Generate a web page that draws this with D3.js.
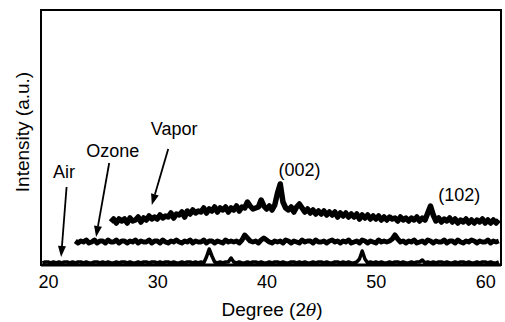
<!DOCTYPE html>
<html>
<head>
<meta charset="utf-8">
<script src="https://cdn.jsdelivr.net/npm/d3@7"></script>
<style>
  html, body { margin: 0; padding: 0; background: #fff; }
  svg { display: block; font-family: "Liberation Sans", Arial, sans-serif; }
</style>
</head>
<body>
<div id="chart"></div>
<script>
// scan grid (degrees 2theta) and intensities (a.u.)
const scanStep = 0.25;
const tickLabels = [20, 30, 40, 50, 60];

const vaporStart = 25.75;
const vaporIntensity = [
  43, 46, 42, 46, 44,
  46, 42, 47, 44,
  45, 48, 43, 47,
  45, 49, 46, 48,
  46, 50, 47, 49,
  48, 52, 47, 51,
  50, 53, 48, 54,
  51, 55, 52, 54,
  53, 57, 52, 56,
  54, 58, 53, 57,
  55, 58, 53, 57,
  55, 59, 54, 58,
  57, 63, 59, 56,
  57, 58, 65, 59,
  56, 59, 55, 60,
  72, 81, 63, 57,
  55, 58, 53, 58,
  61, 57, 53, 56,
  52, 55, 51, 54,
  51, 54, 50, 53,
  50, 53, 48, 52,
  49, 52, 48, 51,
  48, 51, 46, 50,
  47, 50, 46, 49,
  46, 49, 45, 48,
  45, 48, 46, 47,
  44, 48, 45, 47,
  44, 47, 45, 48,
  44, 47, 45, 52,
  59, 50, 44, 47,
  43, 46, 44, 47,
  43, 46, 42, 45,
  43, 46, 42, 45,
  42, 45, 43, 46,
  42, 45, 42, 45,
  42, 45
];

const ozoneStart = 22.5;
const ozoneIntensity = [
  24, 22,
  24, 23, 25, 22,
  23, 25, 22, 24,
  24, 22, 25, 23,
  23, 25, 22, 24,
  24, 22, 24, 23,
  25, 22, 24, 23,
  23, 25, 22, 24,
  24, 22, 25, 23,
  22, 24, 23, 25,
  23, 22, 24, 23,
  25, 22, 24, 23,
  23, 25, 22, 24,
  24, 22, 24, 23,
  22, 25, 23, 24,
  23, 24, 22, 25,
  30, 27, 24, 23,
  24, 22, 25, 27,
  25, 23, 22, 24,
  23, 24, 22, 25,
  24, 22, 24, 23,
  22, 25, 23, 24,
  24, 22, 25, 23,
  23, 24, 22, 24,
  25, 23, 24, 22,
  24, 23, 25, 22,
  23, 24, 22, 25,
  24, 22, 24, 23,
  22, 25, 23, 24,
  23, 24, 26, 30,
  26, 23, 24, 22,
  24, 23, 25, 22,
  23, 24, 22, 25,
  24, 22, 24, 23,
  23, 25, 22, 24,
  24, 22, 25, 23,
  22, 24, 23, 25,
  24, 22, 24, 23,
  23, 25, 22, 24,
  23, 24
];

const airStart = 19.5;
const airIntensity = [
  2, 3,              // 19.5
  3, 2, 3, 2,        // 20
  3, 2, 3, 3,
  2, 3, 2, 3,
  3, 2, 3, 2,
  2, 3, 3, 2,
  3, 2, 3, 2,        // 25
  2, 3, 2, 3,
  3, 2, 3, 2,
  2, 3, 2, 3,
  3, 2, 3, 3,
  2, 3, 2, 3,        // 30
  3, 2, 3, 2,
  2, 3, 2, 3,
  3, 2, 3, 2,
  3, 2, 8, 16,       // 34
  9, 3, 2, 3,        // 35
  2, 3, 3, 7,
  3, 2, 3, 2,
  2, 3, 2, 3,
  3, 2, 3, 2,
  2, 3, 2, 3,        // 40
  3, 2, 3, 2,
  2, 3, 3, 2,
  3, 2, 3, 2,
  2, 3, 2, 3,
  3, 2, 3, 2,        // 45
  2, 3, 3, 2,
  3, 2, 3, 2,
  2, 3, 6, 14,       // 48
  6, 2, 3, 2,
  3, 2, 3, 2,        // 50
  2, 3, 2, 3,
  3, 2, 3, 2,
  2, 3, 2, 3,
  3, 5, 2, 3,        // 54
  2, 3, 2, 3,        // 55
  3, 2, 3, 2,
  2, 3, 2, 3,
  3, 2, 3, 2,
  2, 3, 2, 3,
  3, 2, 3, 2,        // 60
  2, 3
];

const width = 505;
const height = 322;

const x = d3.scaleLinear().domain([19.36, 61.45]).range([41, 501]);
const y = d3.scaleLinear().domain([0, 255]).range([265, 10]);

const svg = d3.select('#chart').append('svg')
  .attr('width', width)
  .attr('height', height);

const toPoints = (start, values) => values.map((v, i) => [start + i * scanStep, v]);

const line = d3.line()
  .x(d => x(d[0]))
  .y(d => y(d[1]));

const series = [
  { name: 'Air', pts: toPoints(airStart, airIntensity), w: 3.5 },
  { name: 'Ozone', pts: toPoints(ozoneStart, ozoneIntensity), w: 5 },
  { name: 'Vapor', pts: toPoints(vaporStart, vaporIntensity), w: 5.5 }
];

svg.append('g')
  .attr('fill', 'none')
  .attr('stroke', '#000')
  .attr('stroke-linejoin', 'round')
  .selectAll('path')
  .data(series)
  .join('path')
    .attr('stroke-width', d => d.w)
    .attr('d', d => line(d.pts));

// frame
svg.append('rect')
  .attr('x', 41)
  .attr('y', 10)
  .attr('width', 460)
  .attr('height', 255)
  .attr('fill', 'none')
  .attr('stroke', '#000')
  .attr('stroke-width', 2);

svg.append('line')
  .attr('x1', 41).attr('x2', 501)
  .attr('y1', 265).attr('y2', 265)
  .attr('stroke', '#000')
  .attr('stroke-width', 3);

const xAxis = svg.append('g')
  .attr('transform', 'translate(0,265)')
  .call(d3.axisBottom(x).tickValues(tickLabels).tickSize(0).tickPadding(10));
xAxis.select('.domain').remove();
xAxis.selectAll('text')
  .attr('font-family', '"Liberation Sans", Arial, sans-serif')
  .attr('font-size', 18)
  .attr('fill', '#000');

// axis titles
const xt = svg.append('text')
  .attr('x', 272)
  .attr('y', 316)
  .attr('text-anchor', 'middle')
  .attr('font-size', 19);
xt.append('tspan').text('Degree (2');
xt.append('tspan').attr('font-style', 'italic').attr('font-family', '"DejaVu Serif", serif').attr('font-size', 17).text('θ');
xt.append('tspan').text(')');

svg.append('text')
  .attr('transform', 'translate(29,132) rotate(-90)')
  .attr('text-anchor', 'middle')
  .attr('font-size', 19)
  .text('Intensity (a.u.)');

// labels with arrows
const notes = [
  { text: 'Air', tx: 20.45, ty: 87, from: [21.7, 78], to: [21.2, 8] },
  { text: 'Ozone', tx: 23.5, ty: 108, from: [25.6, 102], to: [24.4, 28] },
  { text: 'Vapor', tx: 29.4, ty: 130, from: [31.0, 116], to: [29.5, 60] }
];

svg.append('g')
  .attr('font-size', 18)
  .selectAll('text')
  .data(notes)
  .join('text')
    .attr('x', d => x(d.tx))
    .attr('y', d => y(d.ty))
    .text(d => d.text);

notes.forEach(n => {
  const x1 = x(n.from[0]), y1 = y(n.from[1]);
  const x2 = x(n.to[0]), y2 = y(n.to[1]);
  const a = Math.atan2(y2 - y1, x2 - x1);
  const len = 11, half = 4;
  const bx = x2 - len * Math.cos(a), by = y2 - len * Math.sin(a);
  svg.append('line')
    .attr('x1', x1).attr('y1', y1)
    .attr('x2', bx).attr('y2', by)
    .attr('stroke', '#000')
    .attr('stroke-width', 1.8);
  svg.append('path')
    .attr('d', `M${x2},${y2}L${bx + half * Math.sin(a)},${by - half * Math.cos(a)}L${bx - half * Math.sin(a)},${by + half * Math.cos(a)}Z`)
    .attr('fill', '#000');
});

// peak indices
const peaks = [
  { text: '(002)', a: 41.1, i: 89 },
  { text: '(102)', a: 55.7, i: 64 }
];
svg.append('g')
  .attr('font-size', 18)
  .selectAll('text')
  .data(peaks)
  .join('text')
    .attr('x', d => x(d.a))
    .attr('y', d => y(d.i))
    .text(d => d.text);
</script>
</body>
</html>
